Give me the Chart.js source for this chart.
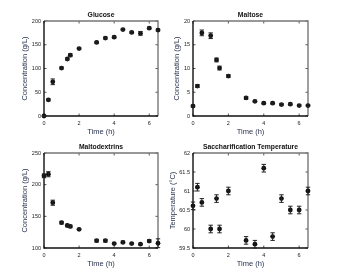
<!DOCTYPE html>
<html><head><meta charset="utf-8">
<script src="https://cdn.jsdelivr.net/npm/chart.js@4/dist/chart.umd.min.js"></script>
<style>
html,body{margin:0;padding:0;background:#fff;width:341px;height:279px;overflow:hidden}
canvas{position:absolute;left:0;top:0}
</style></head><body>
<canvas id="c1" width="341" height="279"></canvas>
<canvas id="c2" width="341" height="279"></canvas>
<canvas id="c3" width="341" height="279"></canvas>
<canvas id="c4" width="341" height="279"></canvas>
<script>
const times = [0, 0.25, 0.5, 1, 1.33, 1.5, 2, 3, 3.5, 4, 4.5, 5, 5.5, 6, 6.5];
const glucose = [0, 34, 72, 101, 120, 128, 142, 155, 164, 166, 182, 176, 174, 185, 181];
const glucoseErr = [1, 2, 6, 2, 2, 3, 2, 2, 2, 2, 2, 2, 4, 2, 2];
const maltose = [2.1, 6.3, 17.5, 16.9, 11.8, 10.1, 8.4, 3.8, 3.1, 2.7, 2.7, 2.4, 2.5, 2.2, 2.2];
const maltoseErr = [0.2, 0.3, 0.6, 0.6, 0.4, 0.4, 0.3, 0.3, 0.2, 0.2, 0.2, 0.2, 0.2, 0.2, 0.2];
const maltodextrins = [214, 216.5, 171.5, 140, 135.5, 134, 129.5, 111.5, 111.5, 107, 109, 107, 106, 111, 107.5];
const maltodextrinsErr = [3, 4, 4, 2, 2, 2, 1, 2, 2, 1, 2, 1, 1, 2, 7];
const temperature = [60.61, 61.1, 60.7, 60.0, 60.8, 60.0, 61.0, 59.7, 59.6, 61.6, 59.8, 60.8, 60.5, 60.5, 61.0];
const temperatureErr = [0.1, 0.1, 0.1, 0.1, 0.1, 0.1, 0.1, 0.1, 0.1, 0.1, 0.1, 0.1, 0.1, 0.1, 0.1];
const xTicks = [0, 2, 4, 6];
const glucoseTicks = [0, 50, 100, 150, 200];
const maltoseTicks = [0, 5, 10, 15, 20];
const maltodextrinsTicks = [100, 150, 200, 250];
const temperatureTicks = [59.5, 60, 60.5, 61, 61.5, 62];

const W = 341, H = 279;
const FONT = "'Liberation Sans', Arial, sans-serif";
const AXIS_COLOR = '#2a3350';

const errPlugin = {
  id: 'errbars',
  afterDatasetsDraw(chart) {
    const {ctx} = chart;
    const err = chart.options.plugins.errbars.err;
    const meta = chart.getDatasetMeta(0);
    const ys = chart.scales.y;
    const data = chart.data.datasets[0].data;
    ctx.save();
    ctx.strokeStyle = '#222';
    ctx.lineWidth = 1;
    meta.data.forEach((pt, i) => {
      const v = data[i].y, e = err[i];
      const y1 = ys.getPixelForValue(v + e), y2 = ys.getPixelForValue(v - e);
      const x = pt.x;
      ctx.beginPath();
      ctx.moveTo(x, y1); ctx.lineTo(x, y2);
      ctx.moveTo(x - 2.2, y1); ctx.lineTo(x + 2.2, y1);
      ctx.moveTo(x - 2.2, y2); ctx.lineTo(x + 2.2, y2);
      ctx.stroke();
    });
    ctx.restore();
  }
};

const framePlugin = {
  id: 'frame',
  beforeDatasetsDraw(chart) {
    const {ctx, chartArea: a} = chart;
    const o = chart.options.plugins.frame;
    ctx.save();
    ctx.strokeStyle = '#555';
    ctx.lineWidth = 1;
    const tl = 2.5;
    chart.scales.y.ticks.forEach(t => {
      const y = chart.scales.y.getPixelForValue(t.value);
      ctx.beginPath();
      ctx.moveTo(a.left, y); ctx.lineTo(a.left + tl, y);
      ctx.moveTo(a.right, y); ctx.lineTo(a.right - tl, y);
      ctx.stroke();
    });
    chart.scales.x.ticks.forEach(t => {
      const x = chart.scales.x.getPixelForValue(t.value);
      ctx.beginPath();
      ctx.moveTo(x, a.bottom); ctx.lineTo(x, a.bottom - tl);
      ctx.moveTo(x, a.top); ctx.lineTo(x, a.top + tl);
      ctx.stroke();
    });
    ctx.lineWidth = 1.4;
    ctx.strokeStyle = '#777';
    ctx.beginPath();
    ctx.moveTo(a.left, a.top); ctx.lineTo(a.right, a.top); ctx.lineTo(a.right, a.bottom);
    ctx.stroke();
    ctx.strokeStyle = '#111';
    ctx.beginPath();
    ctx.moveTo(a.left, a.top); ctx.lineTo(a.left, a.bottom); ctx.lineTo(a.right, a.bottom);
    ctx.stroke();
    ctx.fillStyle = '#111';
    ctx.font = 'bold 6.8px ' + FONT;
    ctx.textAlign = 'center';
    ctx.textBaseline = 'middle';
    ctx.fillText(o.title, (a.left + a.right) / 2, a.top - 6.3);
    ctx.restore();
  }
};

function makeChart(id, rect, yW, title, yTitle, values, err, yTicks, yMin, yMax) {
  const [L, T, R, B] = rect;
  const xH = 20;
  new Chart(document.getElementById(id), {
    type: 'scatter',
    data: {
      datasets: [{
        data: times.map((t, i) => ({x: t, y: values[i]})),
        backgroundColor: '#111',
        borderColor: '#111',
        pointRadius: 2.4,
        borderWidth: 0,
        clip: false
      }]
    },
    options: {
      responsive: false,
      animation: false,
      devicePixelRatio: 1,
      layout: {padding: {left: L - yW, top: T, right: W - R, bottom: H - B - xH}},
      plugins: {
        legend: {display: false},
        tooltip: {enabled: false},
        errbars: {err: err},
        frame: {title: title}
      },
      scales: {
        x: {
          type: 'linear', min: 0, max: 6.5,
          afterBuildTicks: s => { s.ticks = xTicks.map(v => ({value: v})); },
          afterFit: s => { s.height = xH; },
          grid: {display: false, drawTicks: false},
          border: {display: false},
          ticks: {font: {size: 5.5, family: FONT}, color: '#222', padding: 4.5, maxRotation: 0,
                  callback: v => String(v)},
          title: {display: true, text: 'Time (h)', color: AXIS_COLOR, font: {size: 7.5, family: FONT}, padding: 0}
        },
        y: {
          type: 'linear', min: yMin, max: yMax,
          afterBuildTicks: s => { s.ticks = yTicks.map(v => ({value: v})); },
          afterFit: s => { s.width = yW; },
          grid: {display: false, drawTicks: false},
          border: {display: false},
          ticks: {font: {size: 5.5, family: FONT}, color: '#222', padding: 3,
                  callback: v => String(v)},
          title: {display: true, text: yTitle, color: AXIS_COLOR, font: {size: 7.5, family: FONT}, padding: 0}
        }
      }
    },
    plugins: [framePlugin, errPlugin]
  });
}

makeChart('c1', [44, 21, 158, 116], 24, 'Glucose', 'Concentration (g/L)', glucose, glucoseErr, glucoseTicks, 0, 200);
makeChart('c2', [193, 21, 308, 116], 21, 'Maltose', 'Concentration (g/L)', maltose, maltoseErr, maltoseTicks, 0, 20);
makeChart('c3', [44, 153, 158, 248], 24, 'Maltodextrins', 'Concentration (g/L)', maltodextrins, maltodextrinsErr, maltodextrinsTicks, 100, 250);
makeChart('c4', [193, 153, 308, 248], 25, 'Saccharification Temperature', 'Temperature (°C)', temperature, temperatureErr, temperatureTicks, 59.5, 62);
</script>
</body></html>
